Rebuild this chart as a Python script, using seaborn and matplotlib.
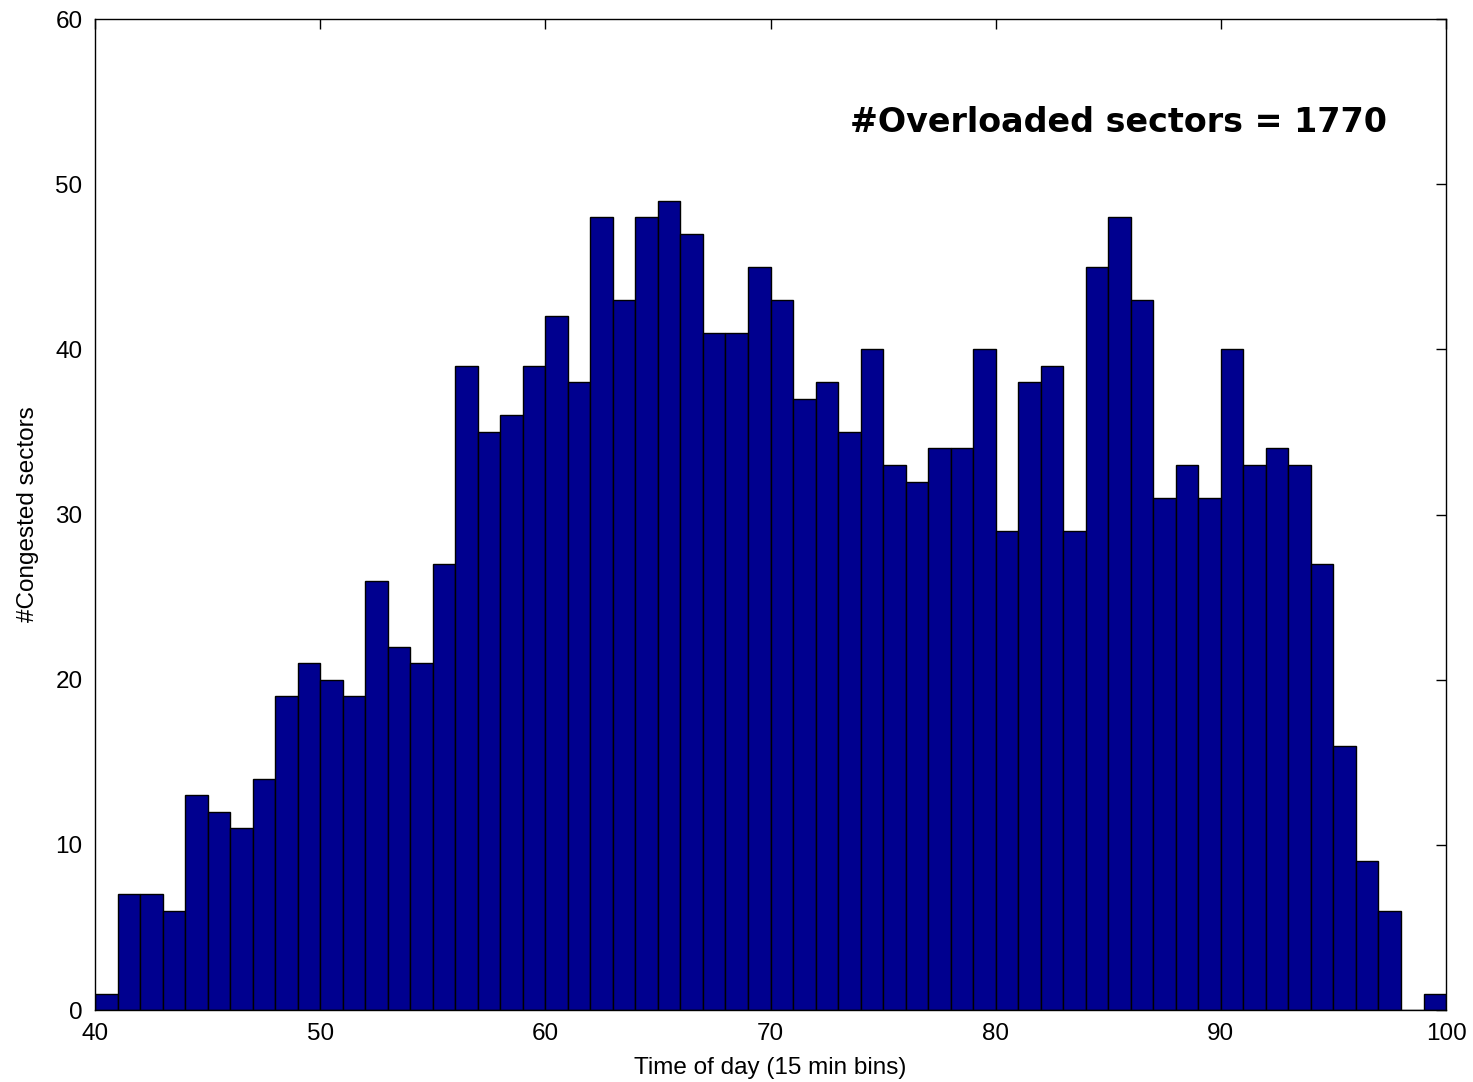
import pandas as pd
import matplotlib
matplotlib.use("Agg")
import matplotlib.pyplot as plt
import seaborn as sns

# Left edges of the 15-min bins and the count in each bin
bin_start = list(range(40, 100))
congested = [1, 7, 7, 6, 13, 12, 11, 14, 19, 21,
             20, 19, 26, 22, 21, 27, 39, 35, 36, 39,
             42, 38, 48, 43, 48, 49, 47, 41, 41, 45,
             43, 37, 38, 35, 40, 33, 32, 34, 34, 40,
             29, 38, 39, 29, 45, 48, 43, 31, 33, 31,
             40, 33, 34, 33, 27, 16, 9, 6, 0, 1]
x_ticks = [40, 50, 60, 70, 80, 90, 100]
y_ticks = [0, 10, 20, 30, 40, 50, 60]
label_text = "#Overloaded sectors = 1770"

df = pd.DataFrame({"bin": bin_start, "count": congested})

sns.set_style("white")
plt.rcParams['font.family'] = ['Liberation Sans', 'DejaVu Sans']
plt.rcParams['text.color'] = 'black'
plt.rcParams['axes.labelcolor'] = 'black'

fig = plt.figure(figsize=(14.73, 10.82), dpi=100)
ax = fig.add_axes([0.0645, 0.0665, 0.9172, 0.9159])

sns.histplot(data=df, x="bin", weights="count", binwidth=1, binrange=(40, 100),
             color="#00008F", edgecolor="black", linewidth=1.0, alpha=1.0, ax=ax)

ax.set_xlim(40, 100)
ax.set_ylim(0, 60)
ax.set_xticks(x_ticks)
ax.set_yticks(y_ticks)
ax.tick_params(direction="in", top=True, right=True, length=7, width=1,
               labelsize=17.5, colors="black")
ax.tick_params(axis="y", pad=9)
ax.tick_params(axis="x", pad=9)
for s in ax.spines.values():
    s.set_color("black")
    s.set_linewidth(1)

ax.set_xlabel("Time of day (15 min bins)", fontsize=17.5, labelpad=9)
ax.set_ylabel("#Congested sectors", fontsize=17.5, labelpad=12)

ax.text(97.4, 53.75, label_text, ha="right", va="center", color="black",
        fontsize=24, fontweight="bold", family="DejaVu Sans")

plt.savefig("out.png", dpi=100)
